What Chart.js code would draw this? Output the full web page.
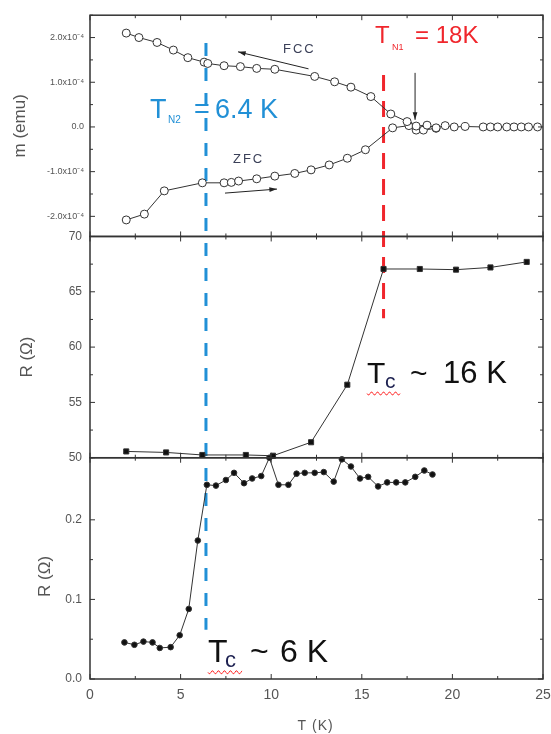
<!DOCTYPE html>
<html>
<head>
<meta charset="utf-8">
<title>m(T) and R(T)</title>
<script src="https://cdn.jsdelivr.net/npm/chart.js@4.4.0/dist/chart.umd.min.js"></script>
<style>
  html, body { margin: 0; padding: 0; background: #fff; }
  canvas { display: block; }
</style>
</head>
<body>
<canvas id="chart" width="551" height="734"></canvas>
<script>
// Magnetic moment, field-cooled branch (units of 1e-4 emu)
const fccTemps = [2.0, 2.7, 3.7, 4.6, 5.4, 6.3, 6.5, 7.4, 8.3, 9.2, 10.2, 12.4, 13.5, 14.4, 15.5, 16.6, 17.5,
                  18.0, 18.6, 19.1, 19.6, 20.1, 20.7, 21.7, 22.1, 22.5, 23.0, 23.4, 23.8, 24.2, 24.7];
const fccMoment = [2.10, 2.00, 1.89, 1.72, 1.55, 1.45, 1.42, 1.37, 1.35, 1.31, 1.29, 1.13, 1.01, 0.89, 0.68, 0.29, 0.12,
                   0.02, 0.04, -0.02, 0.03, 0.00, 0.01, 0.00, 0.00, 0.00, 0.00, 0.00, 0.00, 0.00, 0.00];

// Magnetic moment, zero-field-cooled branch
const zfcTemps = [2.0, 3.0, 4.1, 6.2, 7.4, 7.8, 8.2, 9.2, 10.2, 11.3, 12.2, 13.2, 14.2, 15.2, 16.7, 17.6, 18.0, 18.4, 19.1];
const zfcMoment = [-2.08, -1.95, -1.43, -1.25, -1.25, -1.24, -1.21, -1.16, -1.10, -1.04, -0.96, -0.85, -0.70, -0.51,
                   -0.02, 0.03, -0.07, -0.07, -0.03];

// Resistance, upper sample (ohm)
const resATemps = [2.0, 4.2, 6.2, 8.6, 10.1, 12.2, 14.2, 16.2, 18.2, 20.2, 22.1, 24.1];
const resAValues = [50.57, 50.48, 50.25, 50.25, 50.18, 51.4, 56.6, 67.06, 67.06, 67.0, 67.2, 67.7];

// Resistance, lower sample (ohm)
const resBTemps = [1.9, 2.45, 2.95, 3.45, 3.85, 4.45, 4.95, 5.45, 5.95, 6.45, 6.95, 7.5, 7.95, 8.5, 8.95, 9.45, 9.9,
                   10.4, 10.95, 11.4, 11.85, 12.4, 12.9, 13.45, 13.9, 14.4, 14.9, 15.35, 15.9, 16.4, 16.9, 17.4,
                   17.95, 18.45, 18.9];
const resBValues = [0.046, 0.043, 0.047, 0.046, 0.039, 0.040, 0.055, 0.088, 0.174, 0.244, 0.243, 0.250, 0.259,
                    0.246, 0.252, 0.255, 0.278, 0.244, 0.244, 0.258, 0.259, 0.259, 0.260, 0.248, 0.276, 0.267,
                    0.252, 0.254, 0.242, 0.247, 0.247, 0.247, 0.254, 0.262, 0.257];

// Axis ranges
const tempRange = [0, 25];
const momentRange = [-2.45, 2.5];
const resARange = [50, 70];
const resBRange = [0, 0.278];

// Transition temperatures marked by dashed lines
const tN2 = 6.4;
const tN1 = 16.2;

const FONT = "'Liberation Sans', Arial, sans-serif";
const INK = '#333';
const LABEL = '#555';
const BLUE = '#2190d6';
const RED = '#f0262c';

function toPoints(xs, ys) {
    return xs.map((x, i) => ({ x: x, y: ys[i] }));
}

function momentLabel(v) {
    if (Math.abs(v - Math.round(v)) > 1e-6) return '';
    if (Math.round(v) === 0) return '0.0';
    return v.toFixed(1) + 'x10\u207B\u2074';
}

// Panel frames with inward tick marks on all four sides
const framePlugin = {
    id: 'frames',
    afterDatasetsDraw(chart) {
        const ctx = chart.ctx;
        const area = chart.chartArea;
        const xs = chart.scales.x;
        ctx.save();
        ctx.strokeStyle = INK;
        ['yM', 'yA', 'yB'].forEach(id => {
            const s = chart.scales[id];
            ctx.lineWidth = 1.5;
            ctx.strokeRect(area.left, s.top, area.right - area.left, s.bottom - s.top);
            ctx.lineWidth = 1;
            ctx.beginPath();
            s.ticks.forEach(t => {
                const y = s.getPixelForValue(t.value);
                const len = t.label !== '' ? 5 : 3;
                ctx.moveTo(area.left, y); ctx.lineTo(area.left + len, y);
                ctx.moveTo(area.right, y); ctx.lineTo(area.right - len, y);
            });
            xs.ticks.forEach(t => {
                const x = xs.getPixelForValue(t.value);
                const len = t.label !== '' ? 5 : 3;
                ctx.moveTo(x, s.top); ctx.lineTo(x, s.top + len);
                ctx.moveTo(x, s.bottom); ctx.lineTo(x, s.bottom - len);
            });
            ctx.stroke();
        });
        ctx.restore();
    }
};

function dashedLine(ctx, x, y0, y1, color, dash) {
    ctx.save();
    ctx.strokeStyle = color;
    ctx.lineWidth = 3;
    ctx.setLineDash(dash);
    ctx.beginPath();
    ctx.moveTo(x, y0);
    ctx.lineTo(x, y1);
    ctx.stroke();
    ctx.restore();
}

function arrow(ctx, x0, y0, x1, y1) {
    const a = Math.atan2(y1 - y0, x1 - x0);
    ctx.save();
    ctx.strokeStyle = '#222';
    ctx.fillStyle = '#222';
    ctx.lineWidth = 1;
    ctx.beginPath();
    ctx.moveTo(x0, y0);
    ctx.lineTo(x1, y1);
    ctx.stroke();
    ctx.beginPath();
    ctx.moveTo(x1, y1);
    ctx.lineTo(x1 - 8 * Math.cos(a - 0.3), y1 - 8 * Math.sin(a - 0.3));
    ctx.lineTo(x1 - 8 * Math.cos(a + 0.3), y1 - 8 * Math.sin(a + 0.3));
    ctx.closePath();
    ctx.fill();
    ctx.restore();
}

// red squiggle under the subscript
function squiggle(ctx, x0, x1, y) {
    ctx.save();
    ctx.strokeStyle = '#ff3030';
    ctx.lineWidth = 1;
    ctx.beginPath();
    for (let x = x0; x <= x1; x += 1) {
        const yy = y + 1.6 * Math.sin((x - x0) / 6 * Math.PI * 2);
        if (x === x0) ctx.moveTo(x, yy); else ctx.lineTo(x, yy);
    }
    ctx.stroke();
    ctx.restore();
}

function text(ctx, str, x, y, size, color, opts) {
    opts = opts || {};
    ctx.save();
    ctx.font = (opts.weight || '') + ' ' + size + 'px ' + FONT;
    ctx.fillStyle = color;
    ctx.textAlign = opts.align || 'left';
    ctx.textBaseline = 'alphabetic';
    if (opts.spacing) ctx.letterSpacing = opts.spacing;
    ctx.fillText(str, x, y);
    ctx.restore();
}

const guidePlugin = {
    id: 'guides',
    beforeDatasetsDraw(chart) {
        const ctx = chart.ctx;
        const { x, yM, yA, yB } = chart.scales;
        dashedLine(ctx, x.getPixelForValue(tN2), yM.getPixelForValue(1.88), yB.getPixelForValue(0.062), BLUE, [13, 12]);
        dashedLine(ctx, x.getPixelForValue(tN1), yM.getPixelForValue(1.16), yA.getPixelForValue(62.6), RED, [16, 10]);
    },
    afterDraw(chart) {
        const ctx = chart.ctx;
        const { x, yM, yA, yB } = chart.scales;
        const px = v => x.getPixelForValue(v);

        // arrows showing sweep direction and the ordering temperature
        arrow(ctx, px(12.06), yM.getPixelForValue(1.30), px(8.17), yM.getPixelForValue(1.68));
        arrow(ctx, px(7.45), yM.getPixelForValue(-1.48), px(10.32), yM.getPixelForValue(-1.39));
        arrow(ctx, px(17.94), yM.getPixelForValue(1.21), px(17.94), yM.getPixelForValue(0.16));

        text(ctx, 'FCC', px(10.65), yM.getPixelForValue(1.65), 13, '#3b4058', { spacing: '2px' });
        text(ctx, 'ZFC', px(7.89), yM.getPixelForValue(-0.80), 13, '#3b4058', { spacing: '2px' });

        // T_N2 label
        let bx = px(3.31), by = yM.getPixelForValue(0.2);
        text(ctx, 'T', bx, by, 27, BLUE);
        text(ctx, 'N2', bx + 18, by + 5, 10, BLUE);
        text(ctx, '=', bx + 44, by, 27, BLUE);
        text(ctx, '6.4 K', bx + 65, by, 27, BLUE);

        // T_N1 label
        bx = px(15.73); by = yM.getPixelForValue(1.88);
        text(ctx, 'T', bx, by, 24, RED);
        text(ctx, 'N1', bx + 17, by + 7, 9, RED);
        text(ctx, '= 18K', bx + 40, by, 24, RED);

        // T_c labels
        bx = px(15.29); by = yA.getPixelForValue(56.8);
        text(ctx, 'T', bx, by, 30, '#111');
        text(ctx, 'c', bx + 18, by + 5, 21, '#1c2050');
        text(ctx, '~', bx + 43, by, 30, '#111');
        text(ctx, '16 K', bx + 76, by, 31, '#111');
        squiggle(ctx, bx, bx + 33, by + 11);

        bx = px(6.51); by = yB.getPixelForValue(0.021);
        text(ctx, 'T', bx, by, 32, '#111');
        text(ctx, 'c', bx + 17, by + 5, 22, '#1c2050');
        text(ctx, '~', bx + 42, by, 32, '#111');
        text(ctx, '6 K', bx + 72, by, 32, '#111');
        squiggle(ctx, bx, bx + 34, by + 10);

        // axis titles
        const titles = [
            { str: 'm (emu)', x: 20, y: (yM.top + yM.bottom) / 2 },
            { str: 'R (\u03A9)', x: 27, y: (yA.top + yA.bottom) / 2 + 10 },
            { str: 'R (\u03A9)', x: 45, y: (yB.top + yB.bottom) / 2 + 8 }
        ];
        titles.forEach(t => {
            ctx.save();
            ctx.translate(t.x, t.y);
            ctx.rotate(-Math.PI / 2);
            ctx.font = '17px ' + FONT;
            ctx.fillStyle = LABEL;
            ctx.textAlign = 'center';
            ctx.textBaseline = 'middle';
            ctx.fillText(t.str, 0, 0);
            ctx.restore();
        });
        text(ctx, 'T (K)', px(12.45), 730, 14, LABEL, { align: 'center', spacing: '1px' });
    }
};

const lineStyle = {
    borderColor: INK,
    borderWidth: 1,
    tension: 0,
    pointBorderColor: INK,
    pointBorderWidth: 1
};

const yCommon = {
    type: 'linear',
    position: 'left',
    stack: 'panels',
    stackWeight: 1,
    grid: { display: false, drawTicks: false },
    border: { display: false },
    afterFit(scale) { scale.width = 90; }
};

new Chart(document.getElementById('chart'), {
    type: 'line',
    data: {
        datasets: [
            Object.assign({ label: 'FCC', data: toPoints(fccTemps, fccMoment), yAxisID: 'yM',
                pointRadius: 4, pointBackgroundColor: '#fff' }, lineStyle),
            Object.assign({ label: 'ZFC', data: toPoints(zfcTemps, zfcMoment), yAxisID: 'yM',
                pointRadius: 4, pointBackgroundColor: '#fff' }, lineStyle),
            Object.assign({ label: 'R upper', data: toPoints(resATemps, resAValues), yAxisID: 'yA',
                pointStyle: 'rect', pointRadius: 3.6, pointBackgroundColor: '#111' }, lineStyle),
            Object.assign({ label: 'R lower', data: toPoints(resBTemps, resBValues), yAxisID: 'yB',
                pointRadius: 2.8, pointBackgroundColor: '#111' }, lineStyle)
        ]
    },
    options: {
        responsive: false,
        animation: false,
        clip: false,
        layout: { padding: { top: 15, right: 8, left: 0, bottom: 0 } },
        plugins: { legend: { display: false }, tooltip: { enabled: false } },
        scales: {
            x: {
                type: 'linear',
                position: 'bottom',
                min: tempRange[0],
                max: tempRange[1],
                grid: { display: false, drawTicks: false },
                border: { display: false },
                ticks: {
                    stepSize: 2.5,
                    autoSkip: false,
                    maxRotation: 0,
                    padding: 8,
                    color: LABEL,
                    font: { family: FONT, size: 14 },
                    callback: v => (v % 5 === 0 ? String(v) : '')
                },
                afterFit(scale) {
                    // let the last label run past the plot edge
                    scale.height = 55;
                    scale.paddingLeft = 0;
                    scale.paddingRight = 0;
                }
            },
            yB: Object.assign({}, yCommon, {
                min: resBRange[0],
                max: resBRange[1],
                ticks: {
                    stepSize: 0.05,
                    autoSkip: false,
                    padding: 8,
                    color: LABEL,
                    font: { family: FONT, size: 12 },
                    callback: v => (Math.round(v * 100) % 10 === 0 ? v.toFixed(1) : '')
                }
            }),
            yA: Object.assign({}, yCommon, {
                min: resARange[0],
                max: resARange[1],
                ticks: {
                    stepSize: 2.5,
                    autoSkip: false,
                    padding: 8,
                    color: LABEL,
                    font: { family: FONT, size: 12 },
                    callback: v => (v % 5 === 0 ? String(v) : '')
                }
            }),
            yM: Object.assign({}, yCommon, {
                min: momentRange[0],
                max: momentRange[1],
                ticks: {
                    stepSize: 0.5,
                    autoSkip: false,
                    includeBounds: false,
                    padding: 6,
                    color: LABEL,
                    font: { family: FONT, size: 9 },
                    callback: v => momentLabel(v)
                }
            })
        }
    },
    plugins: [guidePlugin, framePlugin]
});
</script>
</body>
</html>
